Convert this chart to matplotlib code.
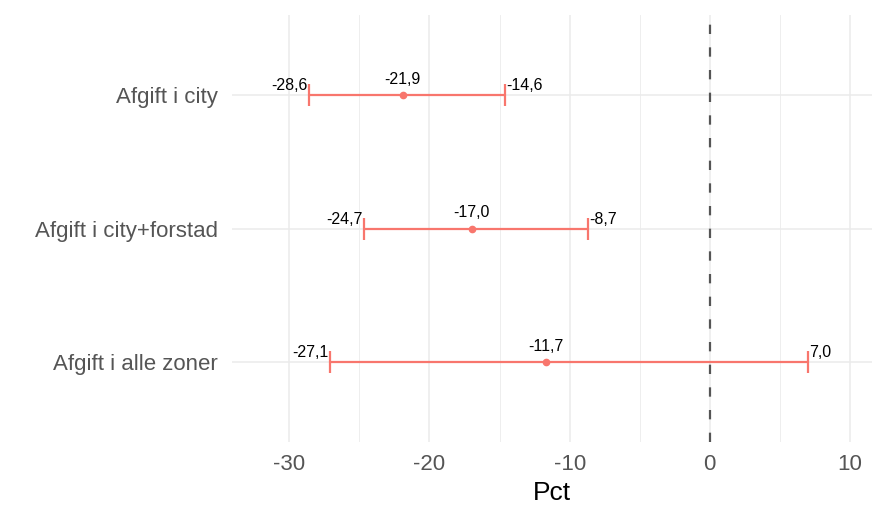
import matplotlib
matplotlib.use("Agg")
import matplotlib.pyplot as plt

plt.rcParams['font.family'] = ['Liberation Sans', 'DejaVu Sans']

# data, top to bottom
categories = ["Afgift i city", "Afgift i city+forstad", "Afgift i alle zoner"]
estimate = [-21.9, -17.0, -11.7]
lower = [-28.6, -24.7, -27.1]
upper = [-14.6, -8.7, 7.0]

xticks = [-30, -20, -10, 0, 10]
minor_xticks = [-25, -15, -5, 5]

col = '#F8766D'
grid_col = '#EBEBEB'


def fmt(v):
    return f"{v:.1f}".replace('.', ',')


fig = plt.figure(figsize=(8.75, 5.08), dpi=100)
ax = fig.add_axes([0.265, 0.13, 0.732, 0.84])

ypos = list(range(len(categories)))[::-1]

# grid lines first
for x in xticks:
    ax.axvline(x, color=grid_col, lw=1.1, zorder=0)
for x in minor_xticks:
    ax.axvline(x, color=grid_col, lw=0.6, zorder=0)
for y in ypos:
    ax.axhline(y, color=grid_col, lw=1.1, zorder=0)

# zero line
ax.axvline(0, color='#555555', lw=1.6, dashes=(4.2, 6.0), zorder=1)

for y, est, lo, hi in zip(ypos, estimate, lower, upper):
    ax.errorbar(est, y, xerr=[[est - lo], [hi - est]], fmt='o', color=col,
                ms=4.5, elinewidth=1.6, capsize=8, capthick=1.6, zorder=3)
    ax.annotate(fmt(est), (est, y), xytext=(0, 6), textcoords='offset points',
                ha='center', va='bottom', fontsize=11.5)
    ax.annotate(fmt(lo), (lo, y), xytext=(-1, 1.5), textcoords='offset points',
                ha='right', va='bottom', fontsize=11.5)
    ax.annotate(fmt(hi), (hi, y), xytext=(1, 1.5), textcoords='offset points',
                ha='left', va='bottom', fontsize=11.5)

ax.set_xlim(-34.1, 11.6)
ax.set_ylim(-0.6, 2.6)
ax.set_xticks(xticks)
ax.set_xticklabels([str(t) for t in xticks])
ax.set_yticks(ypos)
ax.set_yticklabels(categories)
ax.tick_params(length=0, labelsize=16, colors='#555555', pad=10)
ax.tick_params(axis='x', pad=9)
ax.set_xlabel("Pct", fontsize=19, labelpad=4)

for s in ax.spines.values():
    s.set_visible(False)

fig.savefig("out.png", dpi=100)
